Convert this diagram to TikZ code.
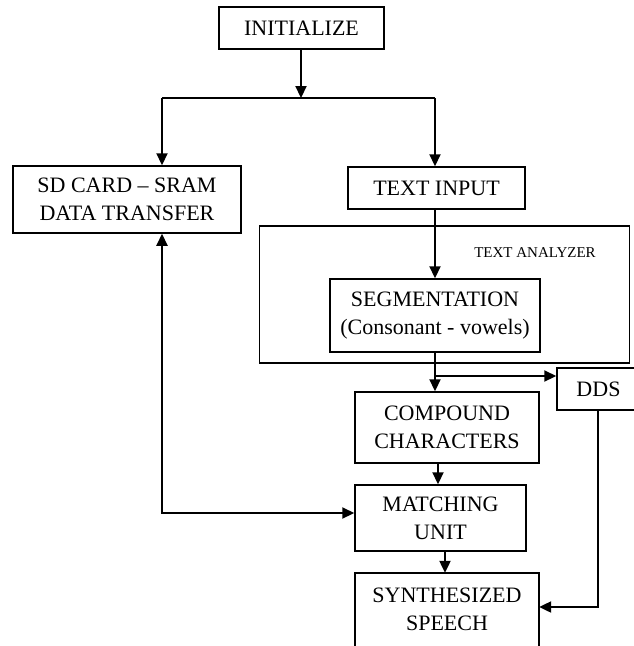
\documentclass[tikz,border=0pt]{standalone}
\usepackage{fontspec}
\setmainfont{Liberation Serif}
\usetikzlibrary{arrows.meta}
\begin{document}
\begin{tikzpicture}[x=1pt,y=-1pt,
  box/.style={draw, line width=1.5pt, inner sep=0pt, align=center,
    font=\fontsize{22}{28}\selectfont},
  lbl/.style={inner sep=0pt, align=center, font=\fontsize{22}{28}\selectfont},
  arr/.style={line width=2.2pt, -{Triangle[length=12pt,width=11pt]}},
  arrb/.style={line width=2.2pt, {Triangle[length=12pt,width=11pt]}-{Triangle[length=12pt,width=11pt]}},
  ln/.style={line width=2.2pt}]
\useasboundingbox (0,0) rectangle (634,646);
\clip (0,0) rectangle (634,646);
\fill[white] (0,0) rectangle (634,646);

% boxes
\node[box, minimum width=165pt, minimum height=42pt] (init) at (301.5,28) {INITIALIZE};
\node[box, minimum width=228pt, minimum height=67pt] (sd) at (127,199.5) {SD CARD -- SRAM\\DATA TRANSFER};
\node[box, minimum width=177pt, minimum height=42pt] (ti) at (436.5,188) {TEXT INPUT};
\node[box, minimum width=370pt, minimum height=137pt] (ana) at (444.5,294.5) {};
\node[inner sep=0pt, font=\fontsize{15}{18}\selectfont] (analbl) at (535,253) {TEXT ANALYZER};
\node[box, minimum width=210pt, minimum height=73pt] (seg) at (435,315.5) {SEGMENTATION\\(Consonant - vowels)};
\node[box, minimum width=184pt, minimum height=71pt] (comp) at (447,427.5) {COMPOUND\\CHARACTERS};
\node[box, minimum width=83pt, minimum height=42pt] (dds) at (598.5,389) {DDS};
\node[box, minimum width=171pt, minimum height=66pt] (match) at (440.5,518) {MATCHING\\UNIT};
\node[lbl, minimum width=184pt, minimum height=72pt] (synth) at (447,609) {SYNTHESIZED\\SPEECH};
\draw[line width=1.5pt] ([yshift=-20pt]synth.south west) -- (synth.north west) -- (synth.north east) -- ([yshift=-20pt]synth.south east);

% junction coordinates
\coordinate (j) at (301,98);
\coordinate (jl) at (162,98);
\coordinate (jr) at (435,98);
\coordinate (br) at (435,376);
\coordinate (sdc) at (162,513);
\coordinate (ddc) at (598,607);

% connectors
\draw[arr] (init.south -| j) -- (j);
\draw[ln] (jl) -- (jr);
\draw[arr] (jl) -- (jl |- sd.north);
\draw[arr] (jr) -- (jr |- ti.north);
\draw[arr] (ti.south -| jr) -- (jr |- seg.north);
\draw[arr] (seg.south -| br) -- (br |- comp.north);
\draw[arr] (br) -- (dds.west |- br);
\draw[arr] (comp.south -| 438,0) -- (match.north -| 438,0);
\draw[arr] (match.south -| 445,0) -- (synth.north -| 445,0);
\draw[arrb] (sd.south -| sdc) -- (sdc) -- (match.west |- sdc);
\draw[arr] (dds.south -| ddc) -- (ddc) -- (synth.east |- ddc);
\end{tikzpicture}
\end{document}
